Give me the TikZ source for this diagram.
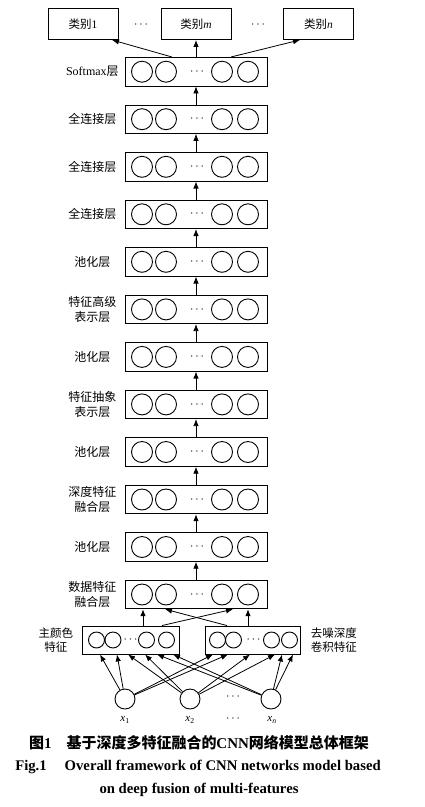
\documentclass[tikz,border=0pt]{standalone}
\usepackage{fontspec}
\setmainfont{Liberation Serif}
\newfontfamily\cjk{Noto Sans CJK SC}
\usetikzlibrary{arrows.meta,positioning,calc}
\begin{document}
\begin{tikzpicture}[
    x=1pt,y=-1pt,
    every node/.style={font=\cjk\fontsize{12}{15}\selectfont},
    layer/.style={draw,line width=.9pt,minimum width=142pt,minimum height=28.5pt,inner sep=0pt},
    unit/.style={draw,circle,line width=.9pt,minimum size=21pt,inner sep=0pt},
    feat/.style={draw,line width=.9pt,minimum height=28pt,inner sep=0pt},
    funit/.style={unit,minimum size=16pt},
    cls/.style={draw,line width=.9pt,minimum width=70pt,minimum height=31pt,
        font=\cjk\fontsize{11.5}{14}\selectfont},
    lbl/.style={text width=54pt,align=center,inner sep=0pt},
    captxt/.style={font=\fontsize{14.7}{17}\selectfont\bfseries},
    arr/.style={-{Latex[length=7pt,width=5.5pt]},line width=.8pt}]
    \useasboundingbox (0,0) rectangle (425,807);
    \foreach \n/\yy/\txt in {L0/71.7/{{\rmfamily Softmax}层},L1/119.2/全连接层,
        L2/166.8/全连接层,L3/214.3/全连接层,L4/261.8/池化层,
        L5/309.4/{特征高级\\表示层},L6/356.9/池化层,L7/404.4/{特征抽象\\表示层},
        L8/452/池化层,L9/499.5/{深度特征\\融合层},L10/547/池化层,
        L11/594.5/{数据特征\\融合层}} {
        \node[layer] (\n) at (196,\yy) {};
        \foreach \dx [count=\k] in {-54,-30,26,52}
            \node[unit] (\n-u\k) at ($(\n)+(\dx,0)$) {};
        \node (\n-dots) at ($(\n)+(1,0)$) {$\cdots$};
        \node[lbl,left=5pt of \n] (\n-lbl) {\txt};
    }
    \foreach \a/\b in {L1/L0,L2/L1,L3/L2,L4/L3,L5/L4,L6/L5,L7/L6,L8/L7,L9/L8,L10/L9,L11/L10}
        \draw[arr] (\a) -- (\b);
    \node[cls] (c1) at (83,24) {类别{\rmfamily 1}};
    \node[cls] (cm) at (196,24) {类别{\rmfamily\itshape m}};
    \node[cls] (cn) at (318.5,24) {类别{\rmfamily\itshape n}};
    \node (cd1) at (141,25) {$\cdots$};
    \node (cd2) at (258,25) {$\cdots$};
    \draw[arr] ([xshift=-24pt]L0.north) -- ([xshift=29pt]c1.south);
    \draw[arr] (L0) -- (cm);
    \draw[arr] ([xshift=35pt]L0.north) -- ([xshift=-18.5pt]cn.south);
    \node[feat,minimum width=97pt] (F1) at (130.5,640) {};
    \node[feat,minimum width=95pt] (F2) at (252.5,640) {};
    \foreach \dx [count=\k] in {-34,-17.5,16,36}
        \node[funit] (F1-u\k) at ($(F1)+(\dx,0)$) {};
    \foreach \dx [count=\k] in {-35,-19,19,37}
        \node[funit] (F2-u\k) at ($(F2)+(\dx,0)$) {};
    \node (F1-dots) at (F1) {$\cdots$};
    \node (F2-dots) at ($(F2)+(1,0)$) {$\cdots$};
    \node[align=center,left=5pt of F1,font=\cjk\fontsize{11.5}{14}\selectfont] (F1-lbl) {主颜色\\特征};
    \node[align=center,right=7pt of F2,font=\cjk\fontsize{11.5}{14}\selectfont] (F2-lbl) {去噪深度\\卷积特征};
    \draw[arr] ([xshift=12.5pt]F1.north) -- ([xshift=-53pt]L11.south);
    \draw[arr] ([xshift=31.5pt]F1.north) -- ([xshift=37pt]L11.south);
    \draw[arr] ([xshift=-25.5pt]F2.north) -- ([xshift=-31pt]L11.south);
    \draw[arr] ([xshift=-4.5pt]F2.north) -- ([xshift=52pt]L11.south);
    \node[unit,minimum size=20pt] (x1) at (125,699) {};
    \node[unit,minimum size=20pt] (x2) at (190,699) {};
    \node[unit,minimum size=20pt] (xn) at (271,699) {};
    \node (xd) at (233,697) {$\cdots$};
    \node[font=\rmfamily\fontsize{11}{13}\selectfont] (x1-lbl) at (125,720) {\textit{x}\textsubscript{1}};
    \node[font=\rmfamily\fontsize{11}{13}\selectfont] (x2-lbl) at (190,720) {\textit{x}\textsubscript{2}};
    \node[font=\rmfamily\fontsize{11}{13}\selectfont] (xn-lbl) at (272,720) {\textit{x}\textsubscript{\textit{n}}};
    \node (xd-lbl) at (233,719) {$\cdots$};
    \foreach \src/\dst/\dx in {x1/F1/-30.5,x1/F1/-13.5,x2/F1/-2.5,x2/F1/14.5,
        xn/F1/26.5,xn/F1/42.5,x1/F2/-39.5,x1/F2/-24.5,x2/F2/-2.5,x2/F2/22.5,
        xn/F2/29.5,xn/F2/40.5}
        \draw[arr] (\src) -- ([xshift=\dx pt]\dst.south);
    \node[font=\cjk\fontsize{15}{17}\selectfont\bfseries] (cap-cn) at (199,743)
        {图{\rmfamily 1}\hspace{15pt}基于深度多特征融合的{\rmfamily CNN}网络模型总体框架};
    \node[captxt] (cap-en1) at (198,767) {Fig.1\hspace{18pt}Overall framework of CNN networks model based};
    \node[captxt] (cap-en2) at (199,790) {on deep fusion of multi-features};
\end{tikzpicture}
\end{document}
